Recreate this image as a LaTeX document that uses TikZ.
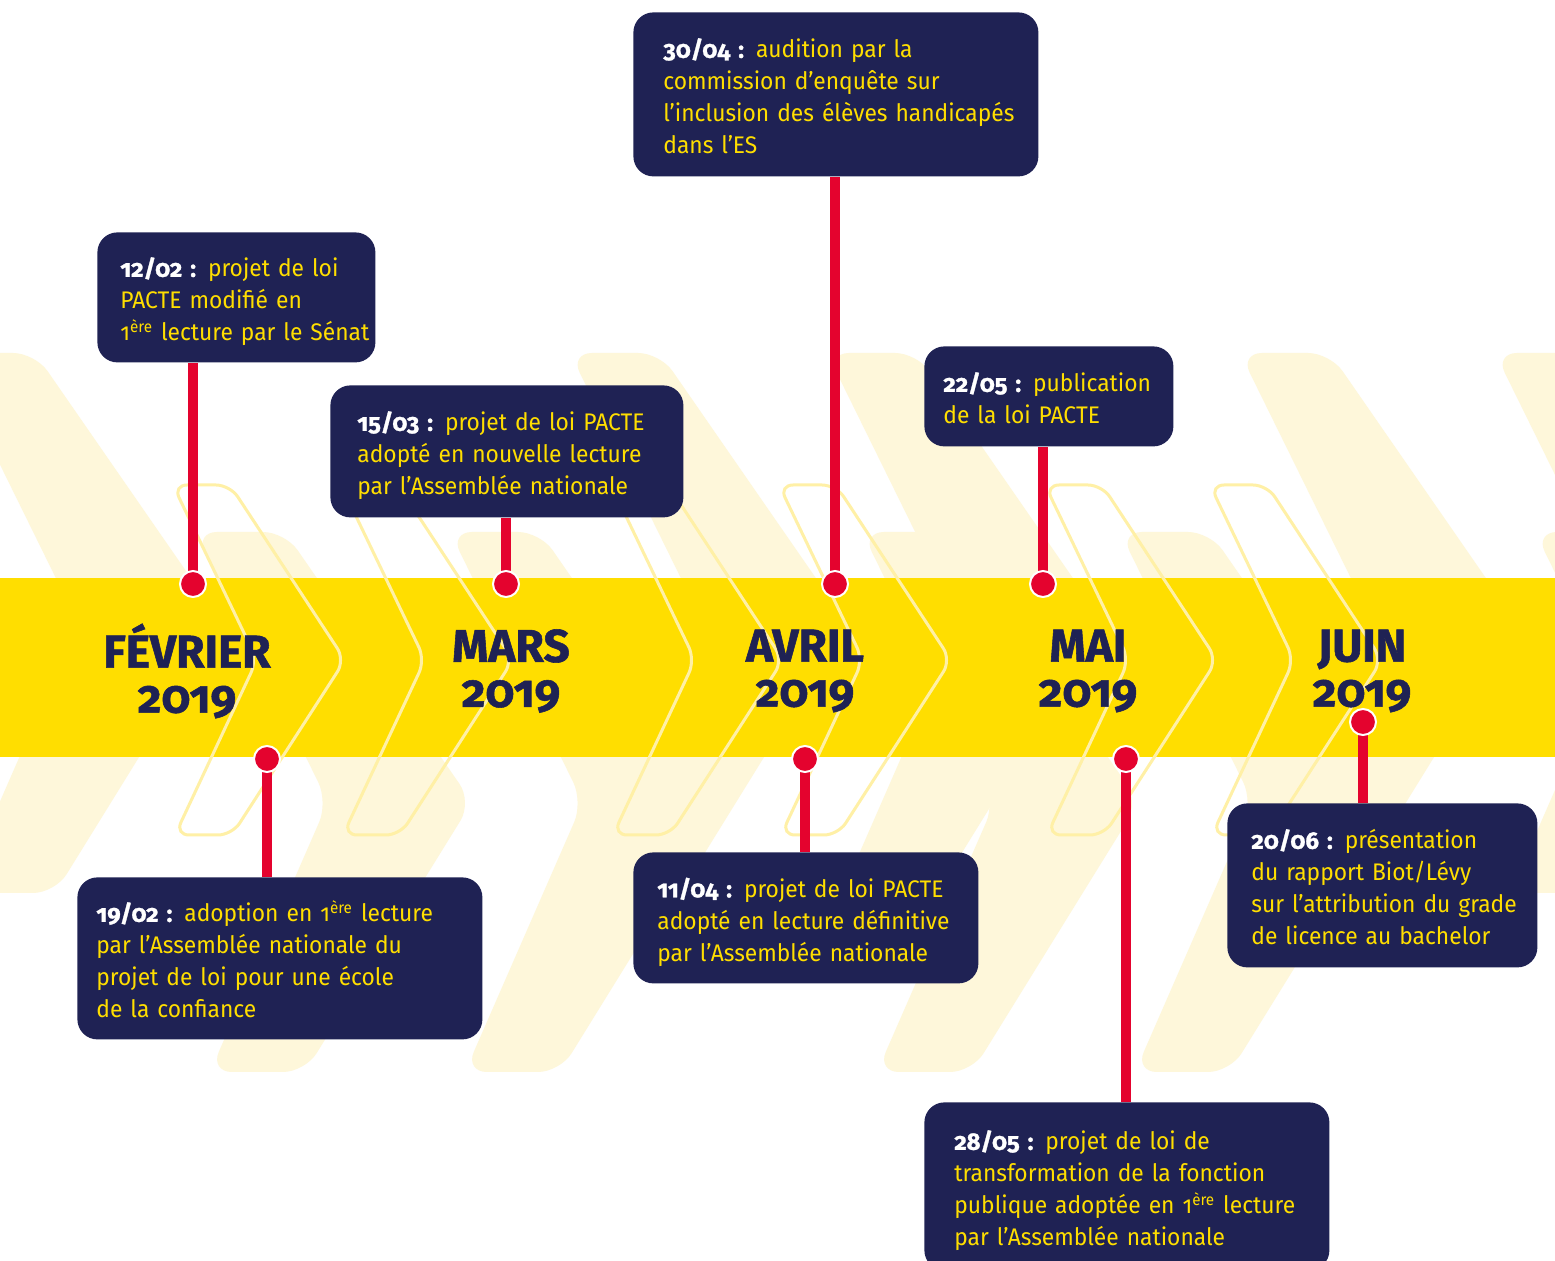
\documentclass[tikz,border=0pt]{standalone}
\usepackage{fontspec}
\setmainfont{Fira Sans}[Numbers=OldStyle, FakeStretch=0.95]
\newfontfamily\monthfont{Fira Sans}[Numbers=OldStyle, BoldFeatures={FakeBold=1.2}]
\definecolor{navy}{RGB}{31,34,84}
\definecolor{ylw}{RGB}{255,222,0}
\definecolor{pale}{RGB}{254,247,218}
\definecolor{paleline}{RGB}{255,240,166}
\definecolor{redc}{RGB}{228,3,46}
\pgfdeclarelayer{fg}
\pgfsetlayers{main,fg}
\newcommand\bigchev[2]{\fill[pale, shift={(#1,#2)}] (118,270) [rounded corners=11pt] -- (-15,0) -- (75,0) -- (262,270) -- (95,540) -- (0,540) -- cycle;}
\newcommand\linechev[1]{\draw[paleline, line width=1.5pt, shift={(#1,485)}, rounded corners=7pt] (77,175) -- (-7,0) -- (50,0) -- (165,175) -- (52,350) -- (-5,350) -- cycle;}
\newcommand\evd[1]{{\color{white}\monthfont\bfseries #1 :}}
\newcommand\evtext[1]{\raisebox{-2.5pt}[\height][\depth]{\begin{tabular}{@{}l@{}}#1\end{tabular}}}
\begin{document}
\begin{tikzpicture}[x=0.5pt,y=-0.5pt,
  evbox/.style={fill=navy, rounded corners=10pt, text=ylw, align=left, anchor=north west, inner ysep=0pt, font=\fontsize{12}{16}\selectfont},
  stem/.style={draw=redc, line width=5pt},
  dot/.style={circle, fill=redc, draw=white, line width=1pt, minimum size=13pt, inner sep=0pt},
  month/.style={text=navy, font=\fontsize{23}{22.5}\selectfont\monthfont\bfseries, align=center}]
\useasboundingbox (0,0) rectangle (1555,1261);
\clip (0,0) rectangle (1555,1261);
\fill[white] (0,0) rectangle (1555,1261);
% pale background chevrons
\foreach \x in {-40,585,842,1255,1510} {\bigchev{\x}{353}}
\foreach \x in {210,465,877,1135,1550} {\bigchev{\x}{532}}
% yellow band
\fill[ylw] (0,578) rectangle (1555,757);
% outline chevrons
\foreach \x in {180,348,618,786,1052,1217} {\linechev{\x}}
% dots (on top layer)
\begin{pgfonlayer}{fg}
\node[dot] (d1) at (193,584) {};
\node[dot] (d2) at (506,584) {};
\node[dot] (d3) at (835,584) {};
\node[dot] (d4) at (1043,584) {};
\node[dot] (d5) at (267,759) {};
\node[dot] (d6) at (805,759) {};
\node[dot] (d7) at (1126,759) {};
\node[dot] (d8) at (1363,722) {};
\end{pgfonlayer}
% boxes
\node[evbox, text width=116pt, inner xsep=11.5pt, minimum height=65pt] (e1) at (97,232)
 {\evtext{\evd{12/02} projet de loi\\PACTE modifié en\\1\textsuperscript{ère} lecture par le Sénat}};
\node[evbox, text width=149.5pt, inner xsep=13.5pt, minimum height=66pt] (e2) at (330,385)
 {\evtext{\evd{15/03} projet de loi PACTE\\adopté en nouvelle lecture\\par l’Assemblée nationale}};
\node[evbox, text width=172.5pt, inner xsep=15pt, minimum height=82pt] (e3) at (633,12)
 {\evtext{\evd{30/04} audition par la\\commission d’enquête sur\\l’inclusion des élèves handicapés\\dans l’ES}};
\node[evbox, text width=105.5pt, inner xsep=9.5pt, minimum height=50pt] (e4) at (924,346)
 {\evtext{\evd{22/05} publication\\de la loi PACTE}};
\node[evbox, text width=183.5pt, inner xsep=9.5pt, minimum height=81pt] (e5) at (77,877)
 {\evtext{\evd{19/02} adoption en 1\textsuperscript{ère} lecture\\par l’Assemblée nationale du\\projet de loi pour une école\\de la confiance}};
\node[evbox, text width=148.5pt, inner xsep=12pt, minimum height=65.5pt] (e6) at (633,852)
 {\evtext{\evd{11/04} projet de loi PACTE\\adopté en lecture définitive\\par l’Assemblée nationale}};
\node[evbox, text width=172.5pt, inner xsep=15pt, minimum height=84pt] (e7) at (924,1102)
 {\evtext{\evd{28/05} projet de loi de\\transformation de la fonction\\publique adoptée en 1\textsuperscript{ère} lecture\\par l’Assemblée nationale}};
\node[evbox, text width=131pt, inner xsep=12pt, minimum height=82pt] (e8) at (1227,803)
 {\evtext{\evd{20/06} présentation\\du rapport Biot/Lévy\\sur l’attribution du grade\\de licence au bachelor}};
% stems
\draw[stem] (d1.center) -- (e1.south -| d1);
\draw[stem] (d2.center) -- (e2.south -| d2);
\draw[stem] (d3.center) -- (e3.south -| d3);
\draw[stem] (d4.center) -- (e4.south -| d4);
\draw[stem] (d5.center) -- (e5.north -| d5);
\draw[stem] (d6.center) -- (e6.north -| d6);
\draw[stem] (d7.center) -- (e7.north -| d7);
\draw[stem] (d8.center) -- (e8.north -| d8);
% month labels
\node[month] (mfev) at (187,671) {FÉVRIER\\2019};
\node[month] (mmar) at (511,671) {MARS\\2019};
\node[month] (mavr) at (805,671) {AVRIL\\2019};
\node[month] (mmai) at (1088,671) {MAI\\2019};
\node[month] (mjui) at (1362,671) {JUIN\\2019};
\end{tikzpicture}
\end{document}
